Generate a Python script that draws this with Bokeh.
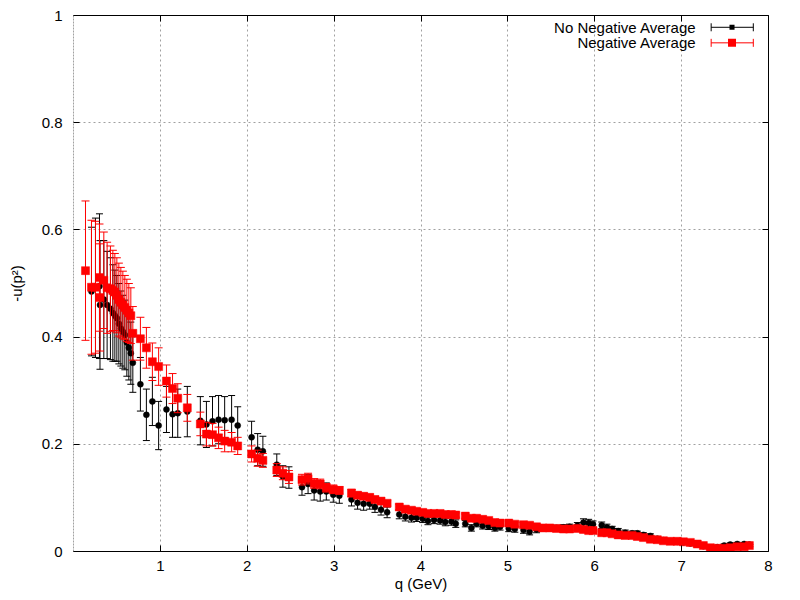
from bokeh.plotting import figure
from bokeh.models import (Range1d, FixedTicker, NumeralTickFormatter, LinearAxis,
                          CustomJSTickFormatter, Span, Label, Arrow, TeeHead,
                          BoxAnnotation, ColumnDataSource)
from bokeh.embed import file_html
from bokeh.resources import INLINE

# ---------------- data ----------------
q_common = [0.207, 0.253, 0.299, 0.305, 0.349, 0.387, 0.425, 0.453, 0.476, 0.499,
            0.522, 0.545, 0.568, 0.591, 0.614, 0.637, 0.660, 0.683, 0.770, 0.839,
            0.908, 0.980, 1.070, 1.140, 1.200, 1.310, 1.460, 1.530, 1.600, 1.670,
            1.740, 1.820, 1.890, 2.050, 2.120, 2.180, 2.340, 2.410, 2.480, 2.630,
            2.700, 2.770, 2.840, 2.910, 2.990, 3.060, 3.200, 3.270, 3.340, 3.410,
            3.470, 3.540, 3.610, 3.750, 3.820, 3.890, 3.950, 4.020, 4.080, 4.150,
            4.220, 4.280, 4.350, 4.400, 4.510, 4.580, 4.640, 4.710, 4.780, 4.850,
            4.910, 5.010, 5.080, 5.180, 5.250, 5.330, 5.400, 5.480, 5.560, 5.640,
            5.710, 5.800, 5.870, 5.930, 5.980, 6.080, 6.140, 6.200, 6.270, 6.350,
            6.430, 6.490, 6.560, 6.640, 6.720, 6.790, 6.870, 6.950, 7.020, 7.100,
            7.180, 7.250, 7.330, 7.410, 7.490, 7.560, 7.640, 7.720, 7.780]

q_black = q_common
val_black = [0.485, 0.492, 0.495, 0.460, 0.470, 0.460, 0.453, 0.445, 0.440, 0.435,
             0.425, 0.416, 0.410, 0.404, 0.390, 0.380, 0.370, 0.352, 0.312, 0.255,
             0.280, 0.235, 0.265, 0.256, 0.258, 0.261, 0.244, 0.237, 0.243, 0.246,
             0.245, 0.246, 0.235, 0.213, 0.190, 0.187, 0.162, 0.140, 0.138, 0.120,
             0.126, 0.114, 0.112, 0.112, 0.106, 0.104, 0.097, 0.091, 0.089, 0.089,
             0.083, 0.078, 0.073, 0.069, 0.065, 0.063, 0.063, 0.061, 0.057, 0.059,
             0.058, 0.055, 0.056, 0.052, 0.052, 0.044, 0.052, 0.048, 0.047, 0.044,
             0.046, 0.043, 0.042, 0.040, 0.037, 0.041, 0.043, 0.043, 0.044, 0.045,
             0.046, 0.048, 0.054, 0.053, 0.051, 0.049, 0.045, 0.042, 0.038, 0.035,
             0.034, 0.034, 0.031, 0.029, 0.024, 0.021, 0.019, 0.018, 0.017, 0.015,
             0.013, 0.010, 0.007, 0.008, 0.011, 0.013, 0.014, 0.014, 0.013]
err_black = [0.120, 0.130, 0.135, 0.120, 0.110, 0.100, 0.095, 0.090, 0.085, 0.080,
             0.075, 0.070, 0.068, 0.065, 0.063, 0.060, 0.058, 0.055, 0.050, 0.048,
             0.045, 0.045, 0.043, 0.043, 0.045, 0.047, 0.045, 0.043, 0.046, 0.045,
             0.044, 0.045, 0.035, 0.030, 0.030, 0.028, 0.020, 0.020, 0.020, 0.015,
             0.018, 0.018, 0.018, 0.016, 0.014, 0.014, 0.012, 0.012, 0.012, 0.010,
             0.010, 0.010, 0.010, 0.008, 0.008, 0.008, 0.007, 0.007, 0.007, 0.007,
             0.007, 0.007, 0.007, 0.007, 0.006, 0.006, 0.006, 0.006, 0.006, 0.006,
             0.006, 0.006, 0.006, 0.006, 0.006, 0.006, 0.005, 0.005, 0.005, 0.005,
             0.005, 0.006, 0.007, 0.007, 0.006, 0.006, 0.006, 0.005, 0.005, 0.005,
             0.004, 0.004, 0.004, 0.004, 0.004, 0.003, 0.003, 0.003, 0.003, 0.003,
             0.003, 0.003, 0.003, 0.003, 0.003, 0.003, 0.003, 0.003, 0.003]

q_red = [0.138] + q_common
val_red = [0.524,
           0.493, 0.493, 0.511, 0.474, 0.506, 0.492, 0.490, 0.487, 0.484, 0.478,
           0.470, 0.465, 0.460, 0.455, 0.450, 0.445, 0.440, 0.407, 0.397, 0.380,
           0.354, 0.345, 0.318, 0.304, 0.286, 0.268, 0.238, 0.219, 0.218, 0.212,
           0.206, 0.204, 0.197, 0.182, 0.174, 0.170, 0.152, 0.146, 0.139, 0.134,
           0.136, 0.127, 0.126, 0.119, 0.116, 0.114, 0.109, 0.105, 0.103, 0.101,
           0.097, 0.094, 0.090, 0.083, 0.079, 0.077, 0.075, 0.073, 0.071, 0.071,
           0.071, 0.069, 0.069, 0.068, 0.066, 0.062, 0.062, 0.060, 0.058, 0.054,
           0.053, 0.053, 0.051, 0.050, 0.049, 0.046, 0.044, 0.044, 0.043, 0.042,
           0.042, 0.043, 0.041, 0.039, 0.039, 0.035, 0.035, 0.033, 0.031, 0.030,
           0.030, 0.028, 0.026, 0.023, 0.022, 0.020, 0.019, 0.019, 0.018, 0.017,
           0.014, 0.011, 0.007, 0.006, 0.006, 0.007, 0.009, 0.009, 0.011]
err_red = [0.130,
           0.125, 0.123, 0.100, 0.100, 0.090, 0.085, 0.080, 0.075, 0.072, 0.070,
           0.068, 0.065, 0.063, 0.060, 0.058, 0.055, 0.052, 0.050, 0.040, 0.038,
           0.035, 0.035, 0.030, 0.028, 0.027, 0.025, 0.022, 0.022, 0.021, 0.020,
           0.020, 0.018, 0.016, 0.015, 0.015, 0.013, 0.012, 0.012, 0.012, 0.010,
           0.010, 0.009, 0.009, 0.008, 0.008, 0.007, 0.007, 0.006, 0.006, 0.006,
           0.006, 0.006, 0.005, 0.005, 0.005, 0.005, 0.005, 0.005, 0.004, 0.004,
           0.004, 0.004, 0.004, 0.004, 0.004, 0.004, 0.004, 0.004, 0.004, 0.004,
           0.004, 0.004, 0.004, 0.004, 0.004, 0.003, 0.003, 0.003, 0.003, 0.003,
           0.003, 0.003, 0.003, 0.003, 0.003, 0.003, 0.003, 0.003, 0.003, 0.003,
           0.003, 0.003, 0.003, 0.003, 0.002, 0.002, 0.002, 0.002, 0.002, 0.002,
           0.002, 0.002, 0.002, 0.002, 0.002, 0.002, 0.002, 0.002, 0.002]

x_ticks = [1, 2, 3, 4, 5, 6, 7, 8]
y_ticks = [0, 0.2, 0.4, 0.6, 0.8, 1]
series_names = ["No Negative Average", "Negative Average"]
x_title = "q (GeV)"
y_title = "-u(p\u00b2)"

# ---------------- figure ----------------
FONT = "Liberation Sans"
FS = "15px"

p = figure(width=800, height=600, output_backend="svg", toolbar_location=None,
           x_range=Range1d(0, 8), y_range=Range1d(0, 1),
           min_border_left=73, min_border_right=32, min_border_top=15, min_border_bottom=49,
           x_axis_label=x_title, y_axis_label=y_title)
p.outline_line_color = None
p.background_fill_color = "white"
p.border_fill_color = "white"

for ax in (p.xaxis[0], p.yaxis[0]):
    ax.major_tick_in = 6
    ax.major_tick_out = 0
    ax.minor_tick_line_color = None
    ax.major_tick_line_color = "black"
    ax.major_label_text_font = FONT
    ax.major_label_text_font_size = FS
    ax.major_label_text_color = "black"
    ax.axis_label_text_font = FONT
    ax.axis_label_text_font_size = FS
    ax.axis_label_text_font_style = "normal"
    ax.axis_label_text_color = "black"

p.xaxis[0].ticker = FixedTicker(ticks=x_ticks)
p.xaxis[0].axis_line_color = "black"
p.xaxis[0].major_label_standoff = 9
p.xaxis[0].axis_label_standoff = 1

p.yaxis[0].ticker = FixedTicker(ticks=y_ticks)
p.yaxis[0].formatter = NumeralTickFormatter(format="0.[0]")
p.yaxis[0].axis_line_color = None
p.yaxis[0].major_label_standoff = 11
p.yaxis[0].axis_label_standoff = 14

# mirrored borders with inward ticks (no labels)
blank = CustomJSTickFormatter(code="return '';")
top = LinearAxis(ticker=FixedTicker(ticks=x_ticks), formatter=blank,
                 major_label_text_font_size="1px",
                 major_tick_in=6, major_tick_out=0, minor_tick_line_color=None,
                 major_label_standoff=0, axis_line_color="black")
right = LinearAxis(ticker=FixedTicker(ticks=y_ticks), formatter=blank,
                   major_label_text_font_size="1px",
                   major_tick_in=6, major_tick_out=0, minor_tick_line_color=None,
                   major_label_standoff=0, axis_line_color="black")
p.add_layout(top, "above")
p.add_layout(right, "right")

p.xgrid.ticker = FixedTicker(ticks=[1, 2, 3, 4, 5, 6, 7])
p.ygrid.ticker = FixedTicker(ticks=[0.2, 0.4, 0.6, 0.8])
for g in (p.xgrid[0], p.ygrid[0]):
    g.grid_line_color = "#a0a0a0"
    g.grid_line_dash = "2 3"
    g.grid_line_width = 1

p.add_layout(Span(location=0, dimension="height", line_color="#444444",
                  line_dash="2 1", line_width=1))

# ---------------- series ----------------
def draw(qs, vals, errs, color, marker, msize, cap):
    src = ColumnDataSource(dict(q=qs, v=vals,
                                lo=[v - e for v, e in zip(vals, errs)],
                                hi=[v + e for v, e in zip(vals, errs)]))
    p.segment(x0="q", y0="lo", x1="q", y1="hi", source=src, line_color=color, line_width=1)
    p.scatter(x="q", y="lo", marker="dash", size=cap, line_color=color, line_width=1, source=src)
    p.scatter(x="q", y="hi", marker="dash", size=cap, line_color=color, line_width=1, source=src)
    p.scatter(x="q", y="v", marker=marker, size=msize, fill_color=color,
              line_color=color, line_width=0.5, source=src)

draw(q_black, val_black, err_black, "black", "circle", 6, 7)
draw(q_red, val_red, err_red, "#ff0000", "square", 8, 8)

# ---------------- gnuplot-style key (text right, sample on the right) ----------------
key_rows = [(0.978, "black", 0.029, 0.0047), (0.949, "#ff0000", 0.046, 0.0075)]
for (ky, col, hw, hh), name in zip(key_rows, series_names):
    p.add_layout(Label(x=7.17, y=ky, text=name, text_align="right", text_baseline="middle",
                       text_font=FONT, text_font_size=FS, text_color="black"))
    p.add_layout(Arrow(x_start=7.34, y_start=ky, x_end=7.825, y_end=ky,
                       line_color=col, line_width=1,
                       start=TeeHead(size=8, line_color=col, line_width=1),
                       end=TeeHead(size=8, line_color=col, line_width=1)))
    p.add_layout(BoxAnnotation(left=7.58 - hw, right=7.58 + hw, bottom=ky - hh, top=ky + hh,
                               fill_color=col, fill_alpha=1.0, line_color=None))

open("out.html", "w").write(file_html(p, INLINE))
